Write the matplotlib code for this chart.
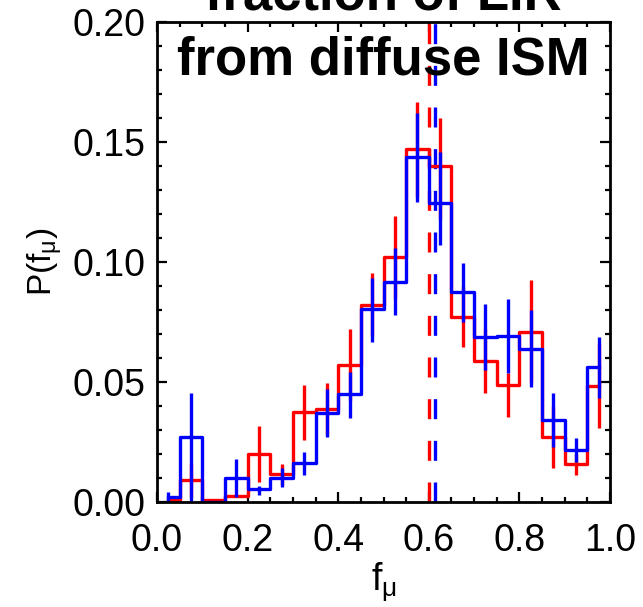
import matplotlib
matplotlib.use("Agg")
import matplotlib.pyplot as plt
import numpy as np

plt.rcParams['font.family'] = ['Liberation Sans', 'DejaVu Sans']
plt.rcParams['mathtext.fontset'] = 'custom'
plt.rcParams['mathtext.rm'] = 'Liberation Sans'
plt.rcParams['mathtext.it'] = 'Liberation Sans'
plt.rcParams['lines.scale_dashes'] = False

# bin centres of the histogram
f_mu = [0.025, 0.075, 0.125, 0.175, 0.225, 0.275, 0.325, 0.375, 0.425, 0.475,
        0.525, 0.575, 0.625, 0.675, 0.725, 0.775, 0.825, 0.875, 0.925, 0.975]

# red histogram and its error bar ends
p_red = [0.001, 0.009, 0.001, 0.0025, 0.020, 0.0117, 0.0374, 0.0386, 0.057, 0.082,
         0.102, 0.147, 0.140, 0.0772, 0.0587, 0.0486, 0.071, 0.027, 0.0158, 0.0483]
red_lo = [0.001, 0.002, 0.001, 0.0025, 0.0085, 0.007, 0.0258, 0.028, 0.042, 0.069,
          0.085, 0.127, 0.118, 0.0647, 0.0453, 0.0356, 0.050, 0.014, 0.0113, 0.0307]
red_hi = [0.001, 0.016, 0.001, 0.0025, 0.0317, 0.016, 0.0488, 0.0494, 0.072, 0.0956,
          0.119, 0.1668, 0.160, 0.090, 0.072, 0.0536, 0.0925, 0.040, 0.020, 0.066]

# blue histogram and its error bar ends
p_blue = [0.0022, 0.027, 0.0, 0.0101, 0.0053, 0.0099, 0.0161, 0.037, 0.0449, 0.0803,
          0.0918, 0.1436, 0.1245, 0.0874, 0.0689, 0.0693, 0.0638, 0.0342, 0.0217, 0.0561]
blue_lo = [0.0, 0.0, 0.0, 0.002, 0.003, 0.0064, 0.0113, 0.027, 0.0349, 0.0665,
           0.078, 0.125, 0.107, 0.075, 0.055, 0.0539, 0.0478, 0.023, 0.0168, 0.0432]
blue_hi = [0.004, 0.0455, 0.0, 0.0179, 0.0067, 0.014, 0.021, 0.047, 0.0543, 0.0935,
           0.106, 0.162, 0.146, 0.0995, 0.0824, 0.0845, 0.080, 0.0455, 0.0265, 0.0689]

# medians (dashed lines)
med_red = 0.601
med_blue = 0.613

fig = plt.figure(figsize=(6.43, 6.07), dpi=100)
ax = fig.add_axes([0.2442, 0.1730, 0.7045, 0.7908])

lw = 2.4
ax.plot([med_red, med_red], [0, 0.2], color='red', lw=lw, dashes=(14.4, 15.6))
ax.plot([med_blue, med_blue], [0, 0.2], color='blue', lw=lw, dashes=(14.4, 15.6))

ax.step(f_mu, p_red, where='mid', color='red', lw=lw)
ax.vlines(f_mu, red_lo, red_hi, color='red', lw=lw)
ax.step(f_mu, p_blue, where='mid', color='blue', lw=lw)
ax.vlines(f_mu, blue_lo, blue_hi, color='blue', lw=lw)

ax.set_xlim(0, 1)
ax.set_ylim(0, 0.2)
ax.set_xticks(np.arange(0, 1.01, 0.2))
ax.set_xticks(np.arange(0, 1.01, 0.05), minor=True)
ax.set_yticks(np.arange(0, 0.201, 0.05))
ax.set_yticks(np.arange(0, 0.201, 0.01), minor=True)
ax.set_xticklabels(['0.0', '0.2', '0.4', '0.6', '0.8', '1.0'])
ax.set_yticklabels(['0.00', '0.05', '0.10', '0.15', '0.20'])
ax.tick_params(which='both', direction='in', top=True, right=True, width=1.6,
               labelsize=27)
ax.tick_params(which='major', length=7.5)
ax.tick_params(which='minor', length=3.8)
ax.tick_params(axis='y', pad=8)
ax.tick_params(axis='x', pad=15)
for s in ax.spines.values():
    s.set_linewidth(2)

ax.set_xlabel(r'f$_\mathregular{\mu}$', fontsize=27, labelpad=1)
ax.set_ylabel(r'P(f$_\mathregular{\mu}$)', fontsize=24, labelpad=6)

ax.text(0.5, 0.8896, 'from diffuse ISM', transform=ax.transAxes, ha='center',
        va='baseline', fontsize=38, fontweight='bold')
ax.text(0.5, 1.025, 'fraction of LIR', transform=ax.transAxes, ha='center',
        va='baseline', fontsize=38, fontweight='bold', clip_on=False)

fig.savefig('out.png', dpi=100)
